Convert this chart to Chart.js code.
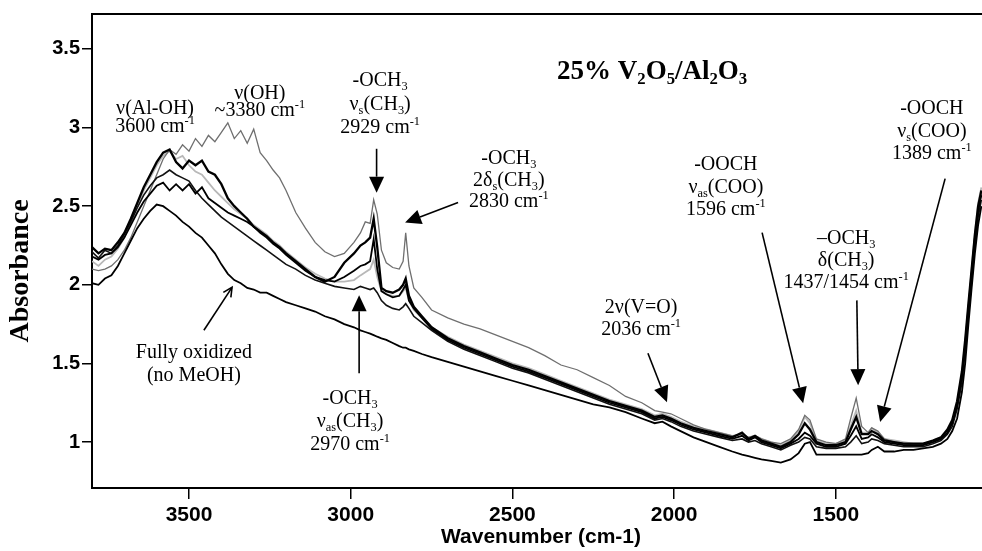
<!DOCTYPE html>
<html>
<head>
<meta charset="utf-8">
<script src="https://cdn.jsdelivr.net/npm/chart.js@4"></script>
<style>
  html, body { margin: 0; padding: 0; background: #fff; overflow: hidden; }
  #wrap { position: relative; width: 982px; height: 551px; }
</style>
</head>
<body>
<div id="wrap"><canvas id="irChart"></canvas></div>
<script>
// --- data (cm-1, absorbance) ---
const wavenumbers = [
  3800, 3780, 3760, 3740, 3720, 3700, 3680, 3660, 3640, 3620,
  3600, 3580, 3560, 3540, 3520, 3500, 3480, 3460, 3440, 3420,
  3400, 3380, 3360, 3340, 3320, 3300, 3280, 3260, 3240, 3220,
  3200, 3170, 3140, 3110, 3080, 3050, 3020, 2990, 2970, 2955,
  2940, 2929, 2918, 2905, 2890, 2870, 2850, 2838, 2830, 2820,
  2805, 2780, 2750, 2700, 2650, 2600, 2550, 2500, 2450, 2400,
  2350, 2300, 2250, 2200, 2150, 2100, 2060, 2036, 2010, 1980,
  1940, 1900, 1860, 1820, 1790, 1770, 1750, 1730, 1700, 1670,
  1640, 1615, 1596, 1580, 1560, 1530, 1500, 1470, 1454, 1437,
  1420, 1400, 1389, 1370, 1350, 1320, 1290, 1260, 1230, 1200,
  1175, 1155, 1140, 1125, 1110, 1100, 1090, 1080, 1070, 1060, 1050
];

const fullyOxidized = [
  2.01, 2.00, 2.04, 2.06, 2.12, 2.20, 2.28, 2.36, 2.42, 2.47,
  2.51, 2.50, 2.47, 2.44, 2.40, 2.37, 2.33, 2.30, 2.25, 2.20,
  2.13, 2.07, 2.03, 2.01, 1.98, 1.97, 1.95, 1.95, 1.93, 1.91,
  1.89, 1.87, 1.85, 1.83, 1.80, 1.78, 1.75, 1.73, 1.71, 1.70,
  1.69, 1.68, 1.67, 1.66, 1.65, 1.63, 1.61, 1.60, 1.60, 1.59,
  1.58, 1.56, 1.54, 1.51, 1.48, 1.45, 1.42, 1.39, 1.36, 1.33,
  1.30, 1.27, 1.24, 1.22, 1.19, 1.15, 1.12, 1.13, 1.10, 1.07,
  1.03, 1.00, 0.97, 0.94, 0.92, 0.91, 0.90, 0.89, 0.88, 0.87,
  0.89, 0.93, 0.99, 1.00, 0.92, 0.92, 0.92, 0.92, 0.92, 0.92,
  0.92, 0.93, 0.95, 0.97, 0.94, 0.94, 0.95, 0.95, 0.96, 0.97,
  0.99, 1.02, 1.07, 1.15, 1.32, 1.50, 1.75, 1.98, 2.20, 2.38, 2.50
];

const grayHigh = [
  2.10, 2.09, 2.10, 2.12, 2.16, 2.22, 2.30, 2.40, 2.50, 2.60,
  2.70, 2.80, 2.86, 2.83, 2.89, 2.85, 2.93, 2.88, 2.95, 2.91,
  2.97, 3.03, 2.93, 2.98, 2.90, 2.99, 2.84, 2.79, 2.73, 2.68,
  2.60, 2.46, 2.36, 2.27, 2.21, 2.18, 2.20, 2.27, 2.33, 2.40,
  2.39, 2.54, 2.45, 2.22, 2.14, 2.11, 2.10, 2.15, 2.33, 2.12,
  1.98, 1.92, 1.84, 1.79, 1.75, 1.72, 1.68, 1.64, 1.60, 1.55,
  1.49, 1.46, 1.41, 1.36, 1.29, 1.25, 1.20, 1.19, 1.18, 1.15,
  1.11, 1.08, 1.06, 1.04, 1.05, 1.03, 1.04, 1.02, 1.00, 0.99,
  1.02, 1.08, 1.17, 1.14, 1.02, 1.00, 0.99, 1.02, 1.15, 1.28,
  1.10, 1.06, 1.09, 1.07, 1.02, 1.00, 0.99, 0.98, 0.98, 1.00,
  1.02, 1.06, 1.12, 1.24, 1.42, 1.62, 1.85, 2.07, 2.30, 2.48, 2.58
];

const blackA = [
  2.24, 2.20, 2.23, 2.22, 2.27, 2.33, 2.42, 2.52, 2.62, 2.70,
  2.78, 2.84, 2.86, 2.78, 2.74, 2.79, 2.76, 2.79, 2.72, 2.70,
  2.64, 2.55, 2.50, 2.46, 2.42, 2.37, 2.34, 2.31, 2.27, 2.24,
  2.20, 2.15, 2.10, 2.05, 2.02, 2.05, 2.14, 2.20, 2.25, 2.27,
  2.30, 2.42, 2.24, 1.98, 1.96, 1.95, 1.97, 2.00, 2.04, 1.93,
  1.86, 1.80, 1.73, 1.66, 1.61, 1.57, 1.53, 1.49, 1.46, 1.42,
  1.38, 1.34, 1.30, 1.26, 1.23, 1.20, 1.16, 1.17, 1.15, 1.12,
  1.09, 1.07, 1.05, 1.03, 1.06, 1.02, 1.04, 1.01, 0.99, 0.97,
  1.00, 1.05, 1.12, 1.08, 1.00, 0.98, 0.98, 1.00, 1.08, 1.16,
  1.05, 1.05, 1.07, 1.05, 1.01, 1.00, 0.99, 0.99, 0.99, 1.01,
  1.03, 1.08, 1.14, 1.26, 1.45, 1.65, 1.88, 2.10, 2.32, 2.50, 2.60
];

const blackB = [
  2.18, 2.16, 2.19, 2.20, 2.24, 2.30, 2.38, 2.46, 2.53, 2.58,
  2.63, 2.65, 2.60, 2.64, 2.60, 2.64, 2.58, 2.62, 2.55, 2.52,
  2.49, 2.46, 2.44, 2.42, 2.40, 2.37, 2.33, 2.30, 2.26, 2.23,
  2.19, 2.14, 2.09, 2.05, 2.03, 2.02, 2.05, 2.09, 2.12, 2.13,
  2.15, 2.29, 2.10, 1.96, 1.94, 1.92, 1.93, 1.97, 2.00, 1.90,
  1.85, 1.79, 1.72, 1.65, 1.60, 1.56, 1.52, 1.48, 1.45, 1.41,
  1.37, 1.33, 1.29, 1.25, 1.22, 1.19, 1.15, 1.16, 1.14, 1.11,
  1.08, 1.06, 1.04, 1.02, 1.04, 1.01, 1.03, 1.00, 0.98, 0.96,
  0.99, 1.02, 1.06, 1.04, 0.99, 0.97, 0.97, 0.99, 1.04, 1.10,
  1.02, 1.03, 1.05, 1.03, 1.00, 0.99, 0.98, 0.98, 0.98, 1.00,
  1.02, 1.06, 1.12, 1.23, 1.42, 1.62, 1.85, 2.07, 2.30, 2.47, 2.57
];

const blackC = [
  2.21, 2.17, 2.22, 2.20, 2.25, 2.32, 2.40, 2.49, 2.57, 2.63,
  2.68, 2.70, 2.73, 2.70, 2.68, 2.66, 2.60, 2.55, 2.51, 2.47,
  2.43, 2.40, 2.37, 2.34, 2.31, 2.28, 2.25, 2.22, 2.19, 2.16,
  2.13, 2.10, 2.06, 2.03, 2.01, 1.99, 1.98, 1.97, 1.99, 1.98,
  1.97, 1.98, 1.95, 1.90, 1.87, 1.85, 1.84, 1.86, 1.88, 1.85,
  1.80, 1.76, 1.71, 1.64, 1.59, 1.55, 1.51, 1.47, 1.44, 1.40,
  1.36, 1.32, 1.28, 1.24, 1.21, 1.18, 1.14, 1.15, 1.13, 1.10,
  1.07, 1.05, 1.03, 1.01, 1.02, 1.00, 1.01, 0.99, 0.97, 0.95,
  0.98, 1.00, 1.03, 1.02, 0.97, 0.96, 0.96, 0.97, 1.00, 1.04,
  0.99, 1.00, 1.02, 1.01, 0.99, 0.98, 0.97, 0.97, 0.97, 0.99,
  1.01, 1.05, 1.10, 1.21, 1.38, 1.58, 1.80, 2.02, 2.25, 2.43, 2.54
];

const lightGray = [
  2.15, 2.12, 2.16, 2.18, 2.23, 2.30, 2.40, 2.50, 2.60, 2.68,
  2.76, 2.82, 2.85, 2.80, 2.82, 2.76, 2.72, 2.70, 2.65, 2.60,
  2.56, 2.52, 2.48, 2.45, 2.42, 2.38, 2.35, 2.32, 2.28, 2.25,
  2.21, 2.16, 2.11, 2.07, 2.04, 2.02, 2.02, 2.03, 2.06, 2.08,
  2.10, 2.16, 2.05, 1.96, 1.94, 1.93, 1.93, 1.96, 1.98, 1.90,
  1.84, 1.79, 1.73, 1.67, 1.62, 1.58, 1.54, 1.50, 1.47, 1.43,
  1.39, 1.35, 1.31, 1.27, 1.24, 1.21, 1.17, 1.18, 1.16, 1.13,
  1.10, 1.08, 1.06, 1.04, 1.05, 1.03, 1.04, 1.02, 1.00, 0.98,
  1.01, 1.07, 1.16, 1.12, 1.01, 0.99, 0.99, 1.01, 1.10, 1.20,
  1.06, 1.06, 1.09, 1.06, 1.02, 1.01, 1.00, 0.99, 0.99, 1.01,
  1.03, 1.07, 1.13, 1.25, 1.44, 1.64, 1.87, 2.10, 2.33, 2.52, 2.62
];

const xTickValues = [3500, 3000, 2500, 2000, 1500];
const yTickValues = [1, 1.5, 2, 2.5, 3, 3.5];

const SERIF = '"Liberation Serif", "Times New Roman", serif';
const SANS = '"Liberation Sans", Arial, sans-serif';

// --- chu thich: vi tri theo (so song, do hap thu) ---
const notes = [
  { x: 3605, y: 3.126, lh: 18, lines: ['ν(Al-OH)', '3600 cm^{-1}'] },
  { x: 3281, y: 3.221, lh: 17, lines: ['ν(OH)', '~3380 cm^{-1}'] },
  { x: 2909, y: 3.303, lh: 23.5, lines: ['-OCH_{3}', 'ν_{s}(CH_{3})', '2929 cm^{-1}'] },
  { x: 2511, y: 2.808, lh: 21.5, lines: ['-OCH_{3}', '2δ_{s}(CH_{3})', '2830 cm^{-1}'] },
  { x: 3485, y: 1.577, lh: 23, lines: ['Fully oxidized', '(no MeOH)'] },
  { x: 3002, y: 1.286, lh: 23, lines: ['-OCH_{3}', 'ν_{as}(CH_{3})', '2970 cm^{-1}'] },
  { x: 2102, y: 1.863, lh: 22, lines: ['2ν(V=O)', '2036 cm^{-1}'] },
  { x: 1840, y: 2.770, lh: 22.5, lines: ['-OOCH', 'ν_{as}(COO)', '1596 cm^{-1}'] },
  { x: 1468, y: 2.301, lh: 22, lines: ['–OCH_{3}', 'δ(CH_{3})', '1437/1454 cm^{-1}'] },
  { x: 1203, y: 3.126, lh: 22.5, lines: ['-OOCH', 'ν_{s}(COO)', '1389 cm^{-1}'] }
];
const titleNote = { x: 2068, y: 3.367, text: '25% V_{2}O_{5}/Al_{2}O_{3}' };

const arrows = [
  { from: [2920, 2.865], to: [2920, 2.586] },
  { from: [2668, 2.523], to: [2832, 2.396] },
  { from: [3454, 1.711], to: [3367, 1.984], open: true },
  { from: [2974, 1.438], to: [2974, 1.933] },
  { from: [2081, 1.565], to: [2022, 1.254] },
  { from: [1728, 2.332], to: [1601, 1.247] },
  { from: [1435, 1.901], to: [1431, 1.362] },
  { from: [1162, 2.675], to: [1363, 1.127] }
];

// --- ve chu co chi so tren / duoi ---
function drawRich(ctx, text, cx, cy, size, bold) {
  const parts = text.split(/(_\{[^}]*\}|\^\{[^}]*\})/).filter(s => s);
  const font = s => (bold ? 'bold ' : '') + s + 'px ' + SERIF;
  const small = size * 0.62;
  let total = 0;
  const segs = parts.map(p => {
    let t = p, dy = 0, fs = size;
    if (p.startsWith('_{')) { t = p.slice(2, -1); fs = small; dy = size * 0.2; }
    else if (p.startsWith('^{')) { t = p.slice(2, -1); fs = small; dy = -size * 0.4; }
    ctx.font = font(fs);
    const w = ctx.measureText(t).width;
    total += w;
    return { t, dy, fs, w };
  });
  let x = cx - total / 2;
  const base = cy + size * 0.33;
  ctx.textAlign = 'left';
  ctx.textBaseline = 'alphabetic';
  segs.forEach(s => {
    ctx.font = font(s.fs);
    ctx.fillText(s.t, x, base + s.dy);
    x += s.w;
  });
}

function drawArrow(ctx, x1, y1, x2, y2, open) {
  const a = Math.atan2(y2 - y1, x2 - x1);
  const len = open ? 9 : 16, half = open ? 4.5 : 7.5;
  const bx = x2 - len * Math.cos(a), by = y2 - len * Math.sin(a);
  const nx = -Math.sin(a) * half, ny = Math.cos(a) * half;
  ctx.beginPath();
  ctx.moveTo(x1, y1);
  ctx.lineTo(open ? x2 : bx, open ? y2 : by);
  ctx.stroke();
  ctx.beginPath();
  if (open) {
    ctx.moveTo(bx + nx, by + ny);
    ctx.lineTo(x2, y2);
    ctx.lineTo(bx - nx, by - ny);
    ctx.stroke();
  } else {
    ctx.moveTo(x2, y2);
    ctx.lineTo(bx + nx, by + ny);
    ctx.lineTo(bx - nx, by - ny);
    ctx.closePath();
    ctx.fill();
  }
}

const annotatePlugin = {
  id: 'annotate',
  afterDraw(chart) {
    const { ctx, chartArea, scales } = chart;
    const px = v => scales.x.getPixelForValue(v);
    const py = v => scales.y.getPixelForValue(v);
    ctx.save();
    ctx.fillStyle = '#000';
    ctx.strokeStyle = '#000';

    // khung tren
    ctx.lineWidth = 2;
    ctx.beginPath();
    ctx.moveTo(chartArea.left - 1, chartArea.top);
    ctx.lineTo(chartArea.right, chartArea.top);
    ctx.stroke();

    // tieu de truc
    ctx.font = 'bold 21px ' + SANS;
    ctx.textAlign = 'center';
    ctx.textBaseline = 'middle';
    ctx.fillText('Wavenumber (cm-1)', 541, 537);
    ctx.save();
    ctx.translate(21, 271);
    ctx.rotate(-Math.PI / 2);
    ctx.font = 'bold 28px ' + SERIF;
    ctx.fillText('Absorbance', 0, 0);
    ctx.restore();

    // chu thich
    notes.forEach(n => {
      n.lines.forEach((line, i) => drawRich(ctx, line, px(n.x), py(n.y) + i * n.lh, 20, false));
    });
    drawRich(ctx, titleNote.text, px(titleNote.x), py(titleNote.y), 27, true);

    // mui ten
    ctx.lineWidth = 1.6;
    arrows.forEach(a => drawArrow(ctx, px(a.from[0]), py(a.from[1]), px(a.to[0]), py(a.to[1]), a.open));
    ctx.restore();
  }
};

function series(values, color, width) {
  return {
    data: wavenumbers.map((w, i) => ({ x: w, y: values[i] })),
    borderColor: color,
    borderWidth: width,
    pointRadius: 0,
    tension: 0,
    fill: false
  };
}

const ctx = document.getElementById('irChart').getContext('2d');
new Chart(ctx, {
  type: 'line',
  data: {
    datasets: [
      series(fullyOxidized, '#000', 1.8),
      series(blackA, '#000', 2.3),
      series(blackB, '#000', 1.8),
      series(blackC, '#111', 1.6),
      series(grayHigh, '#6f6f6f', 1.3),
      series(lightGray, '#b8b8b8', 1.8)
    ]
  },
  options: {
    responsive: true,
    maintainAspectRatio: false,
    animation: false,
    layout: { padding: { top: 13, right: 0, bottom: 0, left: 0 } },
    plugins: { legend: { display: false }, tooltip: { enabled: false } },
    scales: {
      x: {
        type: 'linear',
        reverse: true,
        min: 1048,
        max: 3800,
        afterBuildTicks: s => { s.ticks = xTickValues.map(v => ({ value: v })); },
        afterFit: s => { s.height = 63; },
        grid: { drawOnChartArea: false, drawTicks: true, tickLength: 11, color: '#000', lineWidth: 1.5 },
        border: { display: true, color: '#000', width: 2 },
        ticks: {
          color: '#000', padding: 4, maxRotation: 0, autoSkip: false,
          font: { family: SANS, size: 21, weight: 'bold' },
          callback: v => String(v)
        }
      },
      y: {
        type: 'linear',
        min: 0.708,
        max: 3.722,
        afterBuildTicks: s => { s.ticks = yTickValues.map(v => ({ value: v })); },
        afterFit: s => { s.width = 92; },
        grid: { drawOnChartArea: false, drawTicks: true, tickLength: 10, color: '#000', lineWidth: 1.5 },
        border: { display: true, color: '#000', width: 2 },
        ticks: {
          color: '#000', padding: 2,
          font: { family: SANS, size: 20, weight: 'bold' },
          callback: v => String(v)
        }
      }
    }
  },
  plugins: [annotatePlugin]
});
</script>
</body>
</html>
